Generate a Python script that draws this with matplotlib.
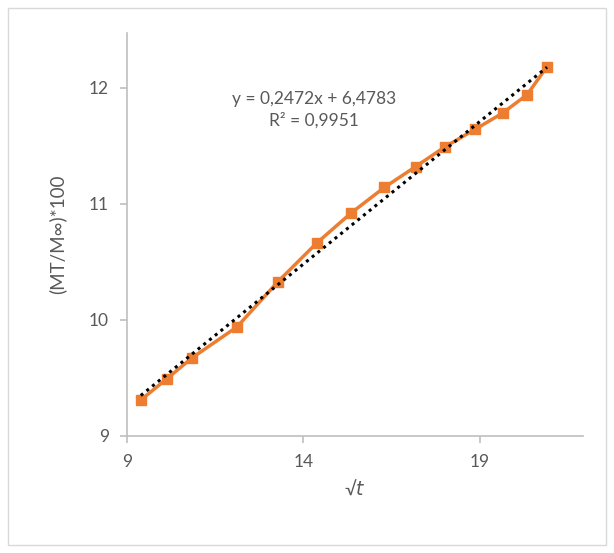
import numpy as np
import matplotlib
matplotlib.use("Agg")
from matplotlib import pyplot as plt
from matplotlib.patches import Rectangle

plt.rcParams['font.family'] = ['Lato', 'DejaVu Sans']

# values
sqrt_t = [9.39, 10.12, 10.83, 12.12, 13.28, 14.37, 15.35, 16.29, 17.18,
          18.01, 18.86, 19.64, 20.34, 20.90]
mt_ratio = [9.31, 9.49, 9.67, 9.94, 10.33, 10.66, 10.92, 11.14, 11.32,
            11.49, 11.64, 11.78, 11.94, 12.18]
eq_text = "y = 0,2472x + 6,4783\nR² = 0,9951"
x_ticks = [9, 14, 19]
y_ticks = [9, 10, 11, 12]

grey = '#595959'
orange = '#ED7D31'

fig = plt.figure(figsize=(6.14, 5.53), dpi=100)
# chart area border
fig.patches.append(Rectangle((8 / 614, 8 / 553), 598 / 614, 537 / 553,
                             transform=fig.transFigure, fill=False,
                             edgecolor='#d9d9d9', linewidth=1))

ax = fig.add_axes([127 / 614, 117 / 553, 456 / 614, 403 / 553])

# linear trendline fitted on the data
coef = np.polyfit(sqrt_t, mt_ratio, 1)
xs = np.array([min(sqrt_t), max(sqrt_t)])
ax.plot(xs, np.polyval(coef, xs), color='black', linestyle=(0, (1, 1.4)),
        linewidth=2.2, zorder=3)

ax.plot(sqrt_t, mt_ratio, color=orange, linewidth=2.5, marker='s',
        markersize=7.5, zorder=2)

ax.set_xlim(9, 21.92)
ax.set_ylim(9, 12.47)
ax.set_xticks(x_ticks)
ax.set_yticks(y_ticks)

for side in ['top', 'right']:
    ax.spines[side].set_visible(False)
for side in ['left', 'bottom']:
    ax.spines[side].set_color('#bfbfbf')
    ax.spines[side].set_linewidth(1.2)
ax.tick_params(colors='#bfbfbf', labelcolor=grey, labelsize=12.5, length=5,
               width=1.2)
ax.tick_params(axis='x', pad=8)
ax.tick_params(axis='y', pad=8)

ax.text(0.41, 0.81, eq_text, transform=ax.transAxes, ha='center',
        va='center', fontsize=12.5, color=grey, linespacing=1.4)

ax.set_xlabel('√$t$', color=grey, fontsize=13.5, labelpad=6)
ax.set_ylabel('(MT/M∞)*100', color=grey, fontsize=13.5, labelpad=16)

plt.savefig('out.png', dpi=100)
